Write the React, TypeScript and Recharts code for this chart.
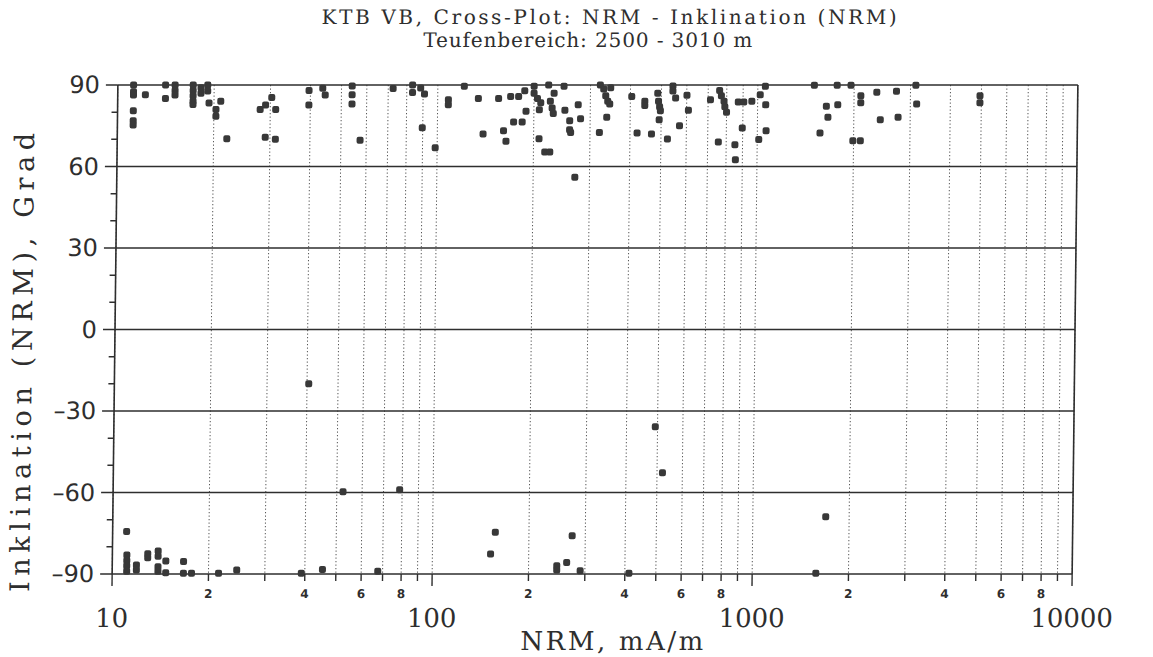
import { CartesianGrid, ReferenceLine, Scatter, ScatterChart, XAxis, YAxis } from "recharts";

const W = 1153;
const H = 657;
// plot box in chart pixels (before the slight skew of the plotter sheet)
const PLOT = { left: 115, right: 1075, top: 85, bottom: 574 };

const xTicks = [
  10, 20, 30, 40, 50, 60, 70, 80, 90,
  100, 200, 300, 400, 500, 600, 700, 800, 900,
  1000, 2000, 3000, 4000, 5000, 6000, 7000, 8000, 9000, 10000,
];
const xDecades = [10, 100, 1000, 10000];
const xSmallLabels = [20, 40, 60, 80, 200, 400, 600, 800, 2000, 4000, 6000, 8000];

const yTicks = [-90, -80, -70, -60, -50, -40, -30, -20, -10, 0, 10, 20, 30, 40, 50, 60, 70, 80, 90];
const yLabelled = [-90, -60, -30, 0, 30, 60, 90];
const yGridLines = [-60, -30, 0, 30, 60, 90];

// [NRM mA/m, inclination deg]
const upperBand: [number, number][] = [
  [11.2, 90], [11.2, 87.5], [11.2, 86.3], [11.2, 80.5], [11.2, 76.8], [11.2, 75.3],
  [12.2, 86.4],
  [14.1, 90], [14.1, 85],
  [15.1, 90], [15.1, 88], [15.1, 86.3],
  [17.2, 90], [17.2, 88], [17.2, 86], [17.2, 84], [17.2, 82.8],
  [18.2, 89], [18.2, 87],
  [19.1, 90], [19.1, 87.8],
  [19.3, 83.4], [20.3, 81], [20.3, 78.5],
  [21, 84],
  [22, 70.2],
  [27.9, 81], [29, 82.6], [30.3, 85.4], [31.2, 81],
  [29, 70.8], [31.2, 70],
  [39.6, 88], [39.6, 82.6],
  [43.7, 88.8], [44.5, 86.3],
  [54, 89.6], [54, 86.4], [54, 83],
  [57.4, 69.7],
  [72.5, 88.7],
  [83.4, 90], [83.4, 87.2], [88.4, 88.9], [90.9, 86.7],
  [89.7, 74.3],
  [98.6, 66.9],
  [108, 84.6], [108, 82.7],
  [121, 89.5],
  [134, 85],
  [139, 72],
  [155, 85],
  [161, 73.2],
  [164, 69.3],
  [169, 85.8], [179, 85.8],
  [173, 76.4], [184, 76.4],
  [187, 87.9],
  [189, 80.3],
  [200, 89.5], [200, 87], [205, 85], [210, 83.5],
  [208, 80.9],
  [208, 70.2],
  [217, 65.3], [225, 65.3],
  [222, 90], [231, 87],
  [225, 84], [228, 81.5], [230, 79.5],
  [248, 89.5],
  [250, 80.7],
  [259, 76.8],
  [259, 73.5], [261, 72.5],
  [270, 56],
  [275, 82.7],
  [280, 77.6],
  [322, 90], [330, 88.5], [335, 86], [340, 84], [345, 83], [347, 89],
  [338, 78.1],
  [321, 72.5],
  [404, 85.8],
  [421, 72.3],
  [444, 84], [444, 82.5],
  [467, 72],
  [487, 87], [490, 84], [494, 82], [497, 80.5],
  [493, 77.2],
  [524, 70.1],
  [543, 89.6], [543, 87.8],
  [554, 85.2],
  [571, 75],
  [601, 86.2],
  [608, 80.7],
  [712, 84.6],
  [756, 69],
  [760, 88], [770, 86], [785, 84], [790, 82], [800, 80],
  [852, 68],
  [856, 62.5],
  [870, 83.7], [905, 83.7],
  [897, 74.2],
  [959, 84],
  [1018, 86.4],
  [1056, 89.5],
  [1060, 82.7],
  [1065, 73.2],
  [1011, 69.9],
  [1502, 89.9],
  [1640, 82.2],
  [1660, 78.1],
  [1780, 82.7],
  [1770, 89.9],
  [1570, 72.3],
  [1955, 89.9],
  [2100, 86], [2100, 83.5],
  [1990, 69.5], [2100, 69.5],
  [2355, 87.3],
  [2420, 77.2],
  [2713, 87.7],
  [2750, 78.1],
  [3118, 89.9],
  [3140, 83],
  [4950, 86], [4950, 83.5],
];

const middleBand: [number, number][] = [
  [40.5, -20], [52.3, -59.7], [78.6, -59], [492, -35.8], [520, -52.7],
];

const lowerBand: [number, number][] = [
  [11.06, -74.4],
  [11.1, -83], [11.1, -85], [11.1, -87], [11.1, -89],
  [11.9, -86.7], [11.9, -88.5],
  [12.9, -82.5], [12.9, -84],
  [13.9, -81.5], [13.9, -83.5], [13.9, -87.3], [13.9, -89],
  [14.7, -85.2], [14.7, -89.5],
  [16.7, -85.4], [16.7, -89.7], [17.7, -89.7],
  [21.5, -89.7],
  [24.5, -88.5],
  [39, -89.7],
  [45.4, -88.3],
  [67.6, -89],
  [152, -82.6], [157, -74.6],
  [245, -87], [245, -88.5], [263, -85.8], [273, -75.9], [290, -88.8],
  [412, -89.7],
  [1581, -89.7], [1690, -68.9],
];

const points = [...upperBand, ...middleBand, ...lowerBand].map(([nrm, incl]) => ({ nrm, incl }));

const INK = "#2e2e2e";
const SERIF = "'DejaVu Serif', serif";
const SANS = "'DejaVu Sans', sans-serif";

function Dot(props: any) {
  const { cx, cy } = props;
  if (cx == null || cy == null) return <g />;
  return <rect x={cx - 3.5} y={cy - 3.5} width={7} height={7} rx={2} fill="#383838" />;
}

function XTick(props: any) {
  const { x, payload } = props;
  const v = payload.value as number;
  const decade = xDecades.includes(v);
  const small = xSmallLabels.includes(v);
  const digit = String(v).charAt(0);
  return (
    <g>
      <line x1={x} x2={x} y1={PLOT.bottom} y2={PLOT.bottom + (decade ? 12 : 7)} stroke={INK} strokeWidth={1.4} />
      {small && (
        <text x={x} y={PLOT.bottom + 24} textAnchor="middle" fontFamily={SANS} fontWeight="bold" fontSize={12} fill={INK}>
          {digit}
        </text>
      )}
      {decade && (
        <text x={x} y={PLOT.bottom + 53} textAnchor="middle" fontFamily={SERIF} fontSize={26} fill={INK}>
          {v}
        </text>
      )}
    </g>
  );
}

const fmtY = (v: number) => (v < 0 ? `–${-v}` : String(v));

function YTickLeft(props: any) {
  const { y, payload } = props;
  const v = payload.value as number;
  const major = yLabelled.includes(v);
  return (
    <g>
      <line x1={PLOT.left} x2={PLOT.left - (major ? 12 : 6)} y1={y} y2={y} stroke={INK} strokeWidth={1.5} />
      {major && (
        <text x={PLOT.left - 18} y={y + 8.5} textAnchor="end" fontFamily={SANS} fontSize={24} fill={INK}>
          {fmtY(v)}
        </text>
      )}
    </g>
  );
}

function YTickRight(props: any) {
  const { y, payload } = props;
  const v = payload.value as number;
  const major = yLabelled.includes(v);
  return (
    <g>
      <line x1={PLOT.right} x2={PLOT.right + (major ? 15 : 8)} y1={y} y2={y} stroke={INK} strokeWidth={1.5} />
      {major && (
        <text x={PLOT.right + 22} y={y + 8.5} textAnchor="start" fontFamily={SANS} fontSize={24} fill={INK}>
          {fmtY(v)}
        </text>
      )}
    </g>
  );
}

export default function App() {
  return (
    <div style={{ position: "absolute", left: 0, top: 0, width: W, height: H, background: "#fff", overflow: "hidden" }}>
      <div style={{ position: "absolute", left: 0, top: 0, width: W, height: H, transform: "skewX(-0.67deg)", transformOrigin: "0 330px" }}>
        <ScatterChart
          width={W}
          height={H}
          margin={{ top: PLOT.top, right: W - PLOT.right - 60, bottom: H - PLOT.bottom - 70, left: PLOT.left - 60 }}
        >
          <CartesianGrid yAxisId="left" horizontal={false} stroke="#555" strokeDasharray="1.2 2.3" strokeWidth={1} />
          <XAxis
            dataKey="nrm"
            type="number"
            scale="log"
            domain={[10, 10000]}
            ticks={xTicks}
            interval={0}
            allowDataOverflow
            height={70}
            axisLine={{ stroke: INK, strokeWidth: 1.6 }}
            tickLine={false}
            tick={(p: any) => <XTick {...p} />}
          />
          <YAxis
            yAxisId="left"
            dataKey="incl"
            type="number"
            domain={[-90, 90]}
            ticks={yTicks}
            interval={0}
            width={60}
            axisLine={{ stroke: INK, strokeWidth: 1.6 }}
            tickLine={false}
            tick={(p: any) => <YTickLeft {...p} />}
          />
          <YAxis
            yAxisId="right"
            orientation="right"
            type="number"
            domain={[-90, 90]}
            ticks={yTicks}
            interval={0}
            width={60}
            axisLine={{ stroke: INK, strokeWidth: 1.6 }}
            tickLine={false}
            tick={(p: any) => <YTickRight {...p} />}
          />
          {yGridLines.map((v) => (
            <ReferenceLine key={v} yAxisId="left" y={v} stroke={INK} strokeWidth={1.6} />
          ))}
          <Scatter yAxisId="left" data={points} shape={(p: any) => <Dot {...p} />} isAnimationActive={false} />
        </ScatterChart>
        <svg width={W} height={H} style={{ position: "absolute", left: 0, top: 0, pointerEvents: "none" }}>
          <text x={318} y={24} fontFamily={SERIF} fontSize={20} fill={INK} textLength={575} lengthAdjust="spacing">
            KTB VB, Cross-Plot: NRM  -  Inklination (NRM)
          </text>
          <text x={420} y={47} fontFamily={SERIF} fontSize={20} fill={INK} textLength={329} lengthAdjust="spacing">
            Teufenbereich: 2500  -  3010 m
          </text>
          <text
            transform="translate(32 592) rotate(-90)"
            x={0}
            y={0}
            fontFamily={SERIF}
            fontSize={27}
            fill={INK}
            textLength={459}
            lengthAdjust="spacing"
          >
            Inklination (NRM), Grad
          </text>
          <text x={524} y={650} fontFamily={SERIF} fontSize={26} fill={INK} textLength={183} lengthAdjust="spacing">
            NRM, mA/m
          </text>
        </svg>
      </div>
    </div>
  );
}
